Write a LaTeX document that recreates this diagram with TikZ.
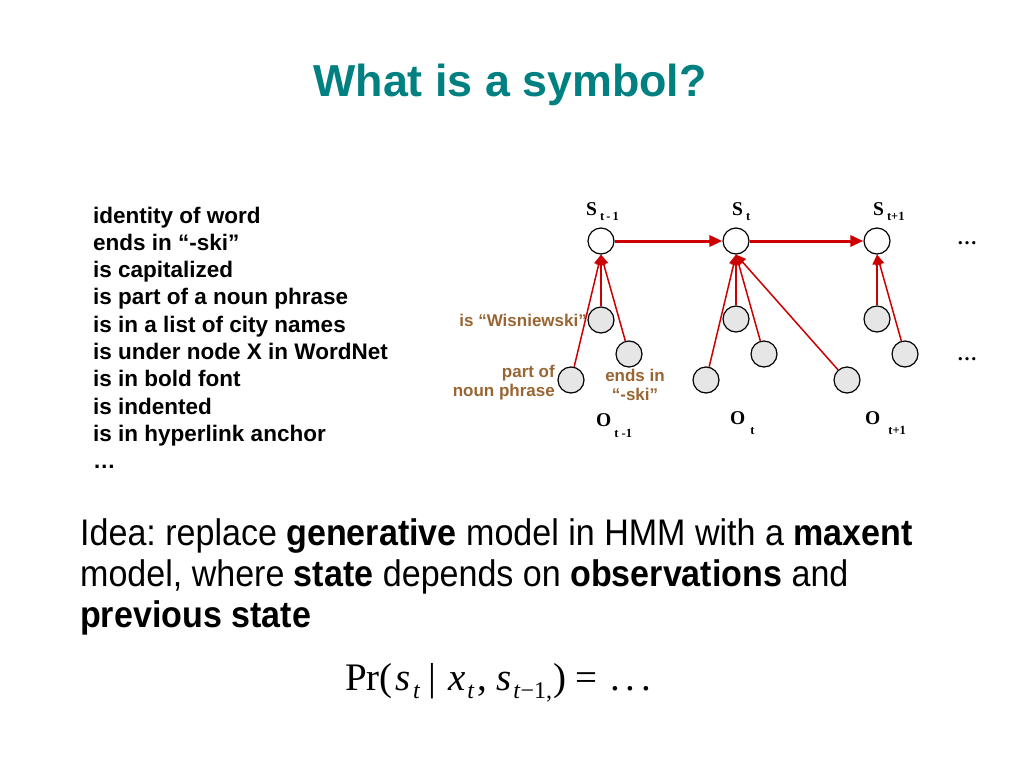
\documentclass[tikz,border=0pt]{standalone}
\usepackage{fontspec}
\setmainfont{Liberation Sans}
\newfontfamily\serif{Liberation Serif}
\newfontfamily\narrow[FakeStretch=0.92]{Liberation Sans}
\usetikzlibrary{arrows.meta}
\definecolor{titleteal}{RGB}{0,128,128}
\definecolor{brownlab}{RGB}{153,102,51}
\definecolor{redarr}{RGB}{204,0,0}
\definecolor{obsgray}{RGB}{230,230,230}
\newcommand\eqsub[1]{\raisebox{-8pt}{\fontsize{24}{24}\selectfont #1}}
\newcommand\lsub[1]{{\fontsize{12.5}{12.5}\selectfont #1}}
\frenchspacing
\tikzset{
  statenode/.style={circle, draw=black, line width=1.2pt, fill=white, minimum size=26pt, inner sep=0pt},
  obsnode/.style={statenode, fill=obsgray},
  trans/.style={draw=redarr, line width=3pt, -{Triangle[length=13pt,width=11pt]}},
  obsarr/.style={draw=redarr, line width=1.5pt, -{Triangle[length=10pt,width=9pt]}},
  listtext/.style={font=\fontsize{22.5}{27}\selectfont\bfseries, inner sep=0pt},
  brownlab/.style={font=\fontsize{17}{19}\selectfont\bfseries, text=brownlab, inner sep=1pt},
  varlab/.style={font=\serif\bfseries\fontsize{19.5}{19.5}\selectfont, inner sep=0pt},
  ideatext/.style={font=\narrow\fontsize{37}{41}\selectfont, inner sep=0pt, anchor=base west},
}
\begin{document}
\begin{tikzpicture}[x=1pt,y=-1pt]
\useasboundingbox[fill=white] (0,0) rectangle (1024,768);

% title
\node[anchor=base, font=\fontsize{44.8}{44.8}\selectfont\bfseries, text=titleteal, inner sep=0pt] (title) at (510,96) {What is a symbol?};

% feature list
\foreach \t [count=\i from 0] in {identity of word, ends in “-ski”, is capitalized, is part of a noun phrase, is in a list of city names, is under node X in WordNet, is in bold font, is indented, is in hyperlink anchor, …}
  \node[listtext, anchor=base west] (l\i) at (93, 223+27.3*\i) {\t};

% states
\node[statenode] (s1) at (601,241) {};
\node[statenode] (s2) at (736,241) {};
\node[statenode] (s3) at (877,241) {};

% observations
\node[obsnode] (a1) at (601,320) {};
\node[obsnode] (a2) at (629,354) {};
\node[obsnode] (a3) at (571,380) {};
\node[obsnode] (b1) at (736,319) {};
\node[obsnode] (b2) at (764,354) {};
\node[obsnode] (b3) at (706,380) {};
\node[obsnode] (b4) at (847,380) {};
\node[obsnode] (c1) at (877,319) {};
\node[obsnode] (c2) at (905,354) {};

% transitions
\draw[trans] (s1) -- (s2);
\draw[trans] (s2) -- (s3);

% observation arrows
\foreach \o in {a1,a2,a3} \draw[obsarr] (\o) -- (s1.south);
\foreach \o in {b1,b2,b3,b4} \draw[obsarr] (\o) -- (s2.south);
\foreach \o in {c1,c2} \draw[obsarr] (\o) -- (s3.south);

% ellipses
\node[font=\serif\bfseries\fontsize{20}{20}\selectfont] (d1) at (967,243) {…};
\node[font=\serif\bfseries\fontsize{20}{20}\selectfont] (d2) at (967,359) {…};

% variable labels
\node[varlab, anchor=base west] (ls1) at (586,215) {S\hspace{3pt}\raisebox{-5pt}{\lsub{t\,-\,1}}};
\node[varlab, anchor=base west] (ls2) at (732,215) {S\hspace{3pt}\raisebox{-5pt}{\lsub{t}}};
\node[varlab, anchor=base west] (ls3) at (873,215) {S\hspace{3pt}\raisebox{-5pt}{\lsub{t+1}}};
\node[varlab, anchor=base west] (lo1) at (596,426) {O\hspace{3pt}\raisebox{-11pt}{\lsub{t -1}}};
\node[varlab, anchor=base west] (lo2) at (730,424) {O\hspace{5pt}\raisebox{-10pt}{\lsub{t}}};
\node[varlab, anchor=base west] (lo3) at (865,424) {O\hspace{8pt}\raisebox{-10pt}{\lsub{t+1}}};

% feature labels
\node[brownlab, anchor=east] (fa1) at (588,320) {is “Wisniewski”};
\node[brownlab, anchor=east, align=right] (fa3) at (556,383) {part of\\noun phrase};
\node[brownlab, align=center] (fa2) at (635,385) {ends in\\“-ski”};

% idea text
\node[ideatext] (i1) at (80,545) {Idea: replace \textbf{generative} model in HMM with a \textbf{maxent}};
\node[ideatext] (i2) at (80,586) {model, where \textbf{state} depends on \textbf{observations} and};
\node[ideatext] (i3) at (80,627) {\textbf{previous state}};

% formula
\node[anchor=base west, font=\serif\fontsize{39}{39}\selectfont, inner sep=0pt] (eq) at (345,690)
  {Pr(\hspace{3pt}\textit{s}\hspace{2pt}\eqsub{\textit{t}}\hspace{8pt}|\hspace{12pt}\textit{x}\hspace{2pt}\eqsub{\textit{t}}\hspace{3pt},\hspace{9pt}\textit{s}\hspace{2pt}\eqsub{\textit{t}−1,}\hspace{1pt})\hspace{9pt}=\hspace{13pt}.\hspace{6pt}.\hspace{6pt}.};
\end{tikzpicture}
\end{document}
